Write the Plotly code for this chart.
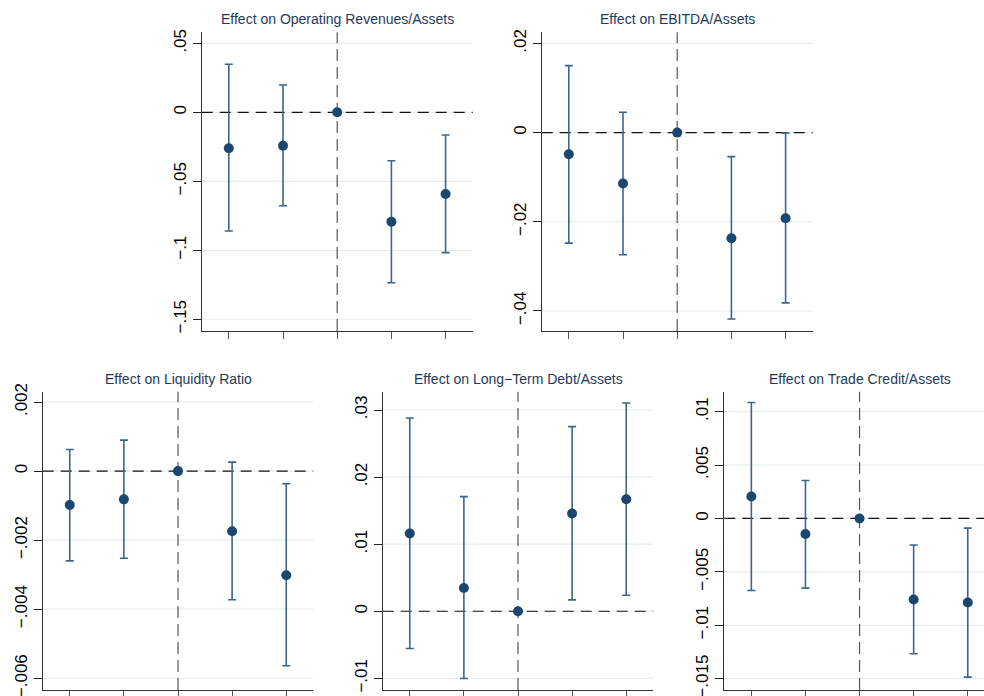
import plotly.graph_objects as go

# ---------------- data ----------------
periods = [1, 2, 3, 4, 5]

titles = [
    "Effect on Operating Revenues/Assets",
    "Effect on EBITDA/Assets",
    "Effect on Liquidity Ratio",
    "Effect on Long\u2212Term Debt/Assets",
    "Effect on Trade Credit/Assets",
]

rev_est = [-0.0260, -0.0242, 0.0, -0.0793, -0.0592]
rev_lo = [-0.0860, -0.0677, 0.0, -0.1235, -0.1017]
rev_hi = [0.0348, 0.0198, 0.0, -0.0351, -0.0164]

ebitda_est = [-0.00486, -0.01143, 0.0, -0.02368, -0.0192]
ebitda_lo = [-0.0248, -0.0274, 0.0, -0.0418, -0.0382]
ebitda_hi = [0.01502, 0.00457, 0.0, -0.00538, -0.0001]

liq_est = [-0.000983, -0.000818, 0.0, -0.001743, -0.003015]
liq_lo = [-0.00260, -0.002523, 0.0, -0.003728, -0.005636]
liq_hi = [0.000627, 0.000896, 0.0, 0.00026, -0.000364]

ltd_est = [0.01158, 0.00347, 0.0, 0.01456, 0.01669]
ltd_lo = [-0.00556, -0.01003, 0.0, 0.00169, 0.00238]
ltd_hi = [0.02881, 0.01709, 0.0, 0.02753, 0.03104]

tc_est = [0.00206, -0.00146, 0.0, -0.00758, -0.00787]
tc_lo = [-0.00674, -0.00652, 0.0, -0.01267, -0.01485]
tc_hi = [0.01086, 0.00356, 0.0, -0.00249, -0.0009]

tick_vals = [
    [-0.15, -0.1, -0.05, 0, 0.05],
    [-0.04, -0.02, 0, 0.02],
    [-0.006, -0.004, -0.002, 0, 0.002],
    [-0.01, 0, 0.01, 0.02, 0.03],
    [-0.015, -0.01, -0.005, 0, 0.005, 0.01],
]
tick_text = [
    ["\u2212.15", "\u2212.1", "\u2212.05", "0", ".05"],
    ["\u2212.04", "\u2212.02", "0", ".02"],
    ["\u2212.006", "\u2212.004", "\u2212.002", "0", ".002"],
    ["\u2212.01", "0", ".01", ".02", ".03"],
    ["\u2212.015", "\u2212.01", "\u2212.005", "0", ".005", ".01"],
]

y_ranges = [
    [-0.1585, 0.058],
    [-0.0445, 0.0225],
    [-0.00634, 0.0023],
    [-0.01174, 0.03273],
    [-0.01606, 0.01187],
]
x_ranges = [[0.5, 5.5], [0.5, 5.5], [0.5, 5.5], [0.5, 5.5], [0.5, 5.3]]

# ---------------- layout geometry ----------------
W, H = 984, 696
px_domains = [
    ((201.7, 472.7), (32.3, 331.0)),
    ((541.7, 812.7), (32.3, 331.0)),
    ((42.7, 313.3), (391.7, 690.0)),
    ((382.7, 653.3), (391.7, 690.0)),
    ((724.3, 984.0), (391.7, 690.0)),
]

series = [
    (rev_est, rev_lo, rev_hi),
    (ebitda_est, ebitda_lo, ebitda_hi),
    (liq_est, liq_lo, liq_hi),
    (ltd_est, ltd_lo, ltd_hi),
    (tc_est, tc_lo, tc_hi),
]
title_px_y = [19, 19, 379, 379, 379]

MARKER = "#1a476f"
BAR = "#3a6689"
GRID = "#e6eef1"
FONT = "Liberation Sans"

fig = go.Figure()
layout = dict(
    width=W, height=H,
    margin=dict(l=0, r=0, t=0, b=0, autoexpand=False),
    paper_bgcolor="white", plot_bgcolor="white",
    showlegend=False,
    font=dict(family=FONT, color="black"),
)
grid_shapes = []
ref_shapes = []
annotations = []

for i, (est, lo, hi) in enumerate(series):
    n = i + 1
    xa = "x" if n == 1 else f"x{n}"
    ya = "y" if n == 1 else f"y{n}"
    up = [h - e for h, e in zip(hi, est)]
    dn = [e - l for e, l in zip(est, lo)]
    fig.add_trace(go.Scatter(
        x=periods, y=est, mode="markers", xaxis=xa, yaxis=ya,
        marker=dict(color=MARKER, size=10),
        error_y=dict(type="data", symmetric=False, array=up, arrayminus=dn,
                     color=BAR, thickness=1.6, width=4),
        cliponaxis=False,
    ))
    (x0, x1), (y0, y1) = px_domains[i]
    xdom = [x0 / W, x1 / W]
    ydom = [1 - y1 / H, 1 - y0 / H]
    layout["xaxis" if n == 1 else f"xaxis{n}"] = dict(
        domain=xdom, range=x_ranges[i], anchor=ya,
        tickvals=periods, showticklabels=False, ticks="outside",
        ticklen=7, tickwidth=1.2, tickcolor="#555555",
        showgrid=False, zeroline=False, automargin=False,
        showline=True, linecolor="#333333", linewidth=1.3,
    )
    layout["yaxis" if n == 1 else f"yaxis{n}"] = dict(
        domain=ydom, range=y_ranges[i], anchor=xa,
        tickvals=tick_vals[i], ticktext=tick_text[i],
        tickangle=-90, ticks="outside", ticklen=8, tickwidth=1.2,
        tickcolor="#222222", tickfont=dict(family=FONT, size=17, color="black"),
        ticklabeloverflow="allow",
        showgrid=False, automargin=False,
        zeroline=False, showline=True, linecolor="#333333", linewidth=1.3,
    )
    # gridlines (as shapes so the dashed reference lines can sit on top)
    for tv in tick_vals[i]:
        grid_shapes.append(dict(type="line", xref=f"{xa} domain", yref=ya,
                                x0=0, x1=1, y0=tv, y1=tv, layer="below",
                                line=dict(color=GRID, width=1.2)))
    # reference lines
    ref_shapes.append(dict(type="line", xref=xa, yref=f"{ya} domain",
                           x0=3, x1=3, y0=0, y1=1, layer="below",
                           line=dict(color="#555555", width=1.2, dash="12px,6px")))
    ref_shapes.append(dict(type="line", xref=f"{xa} domain", yref=ya,
                           x0=0, x1=1, y0=0, y1=0, layer="below",
                           line=dict(color="#111111", width=1.2, dash="11px,7px")))
    annotations.append(dict(
        text=titles[i], xref=xa, x=3, yref="paper", y=1 - title_px_y[i] / H,
        xanchor="center", yanchor="middle", showarrow=False,
        font=dict(family=FONT, size=14, color="#1f3a5c"),
    ))

layout["shapes"] = grid_shapes + ref_shapes
layout["annotations"] = annotations
fig.update_layout(**layout)
fig.write_html("out.html", config={"displayModeBar": False},
               post_script="document.body.style.margin='0px';")
